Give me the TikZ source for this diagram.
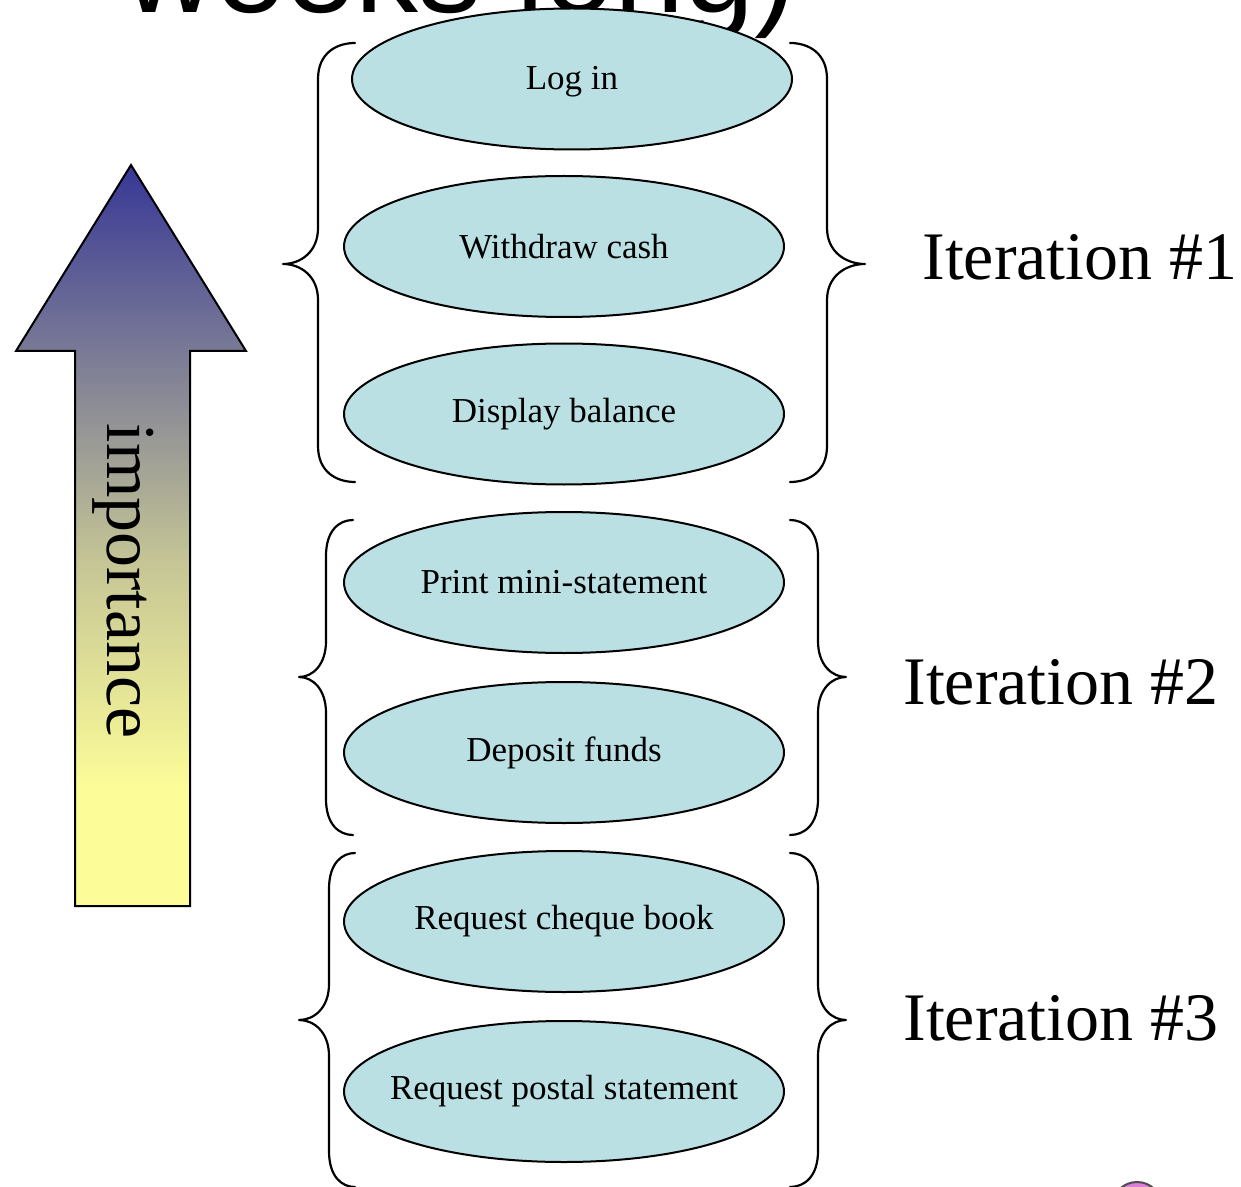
\documentclass[tikz,border=0pt]{standalone}
\usepackage{fontspec}
\setmainfont{Liberation Serif}
\newfontfamily\headfont{Liberation Sans}
\usetikzlibrary{shapes.geometric}

\definecolor{ucfill}{RGB}{186,224,228}
\definecolor{impblue}{RGB}{55,55,150}
\definecolor{impmid}{RGB}{198,198,150}
\definecolor{impyellow}{RGB}{252,252,152}
\definecolor{badgefill}{RGB}{218,128,218}

% vertical ramp for the importance arrow: yellow at the foot, blue at the tip
\pgfdeclareverticalshading{impramp}{100bp}{%
  color(0bp)=(impyellow); color(33bp)=(impyellow);
  color(48bp)=(impmid); color(75bp)=(impblue); color(100bp)=(impblue)}

% curly brace: end x, spine x, tip x, top y, tip y, bottom y
\newcommand\curlybrace[6]{%
  \draw[bracestroke] (#1,#4) .. controls ({(#1+#2)/2},#4) and (#2,{#4+10}) .. (#2,{#4+36})
    -- (#2,{#5-36}) .. controls (#2,{#5-12}) and ({(#2+#3)/2},#5) .. (#3,#5)
    .. controls ({(#2+#3)/2},#5) and (#2,{#5+12}) .. (#2,{#5+36})
    -- (#2,{#6-36}) .. controls (#2,{#6-10}) and ({(#1+#2)/2},#6) .. (#1,#6);}

\tikzset{
  usecase/.style={ellipse, draw=black, line width=1pt, fill=ucfill,
    minimum width=220pt, minimum height=70.5pt, inner sep=0pt},
  uctext/.style={font=\fontsize{17.5}{20}\selectfont, inner sep=0pt},
  bracestroke/.style={line width=1.1pt, line cap=round, line join=round},
  iterlabel/.style={anchor=base west, inner sep=0pt,
    font=\fontsize{34}{40}\selectfont},
}

\begin{document}
\begin{tikzpicture}[x=0.5pt, y=-0.5pt]
\useasboundingbox (0,0) rectangle (1241,1187);
\clip (0,0) rectangle (1241,1187);

% slide title running off the top edge
\node[anchor=base west, inner sep=0pt,
  font=\headfont\fontsize{63}{66}\selectfont] (title) at (124,13) {weeks long)};

% importance arrow
\shade[shading=impramp, draw=black, line width=1pt, line join=miter]
  (131,165) -- (246,351) -- (190,351) -- (190,906) -- (75,906)
  -- (75,351) -- (16,351) -- cycle;
\node[rotate=-90, anchor=base, inner sep=0pt,
  font=\fontsize{35}{40}\selectfont] (imp) at (107,581) {importance};

% use cases
\node[usecase, label={[uctext, yshift=-1.5pt]center:Log in}] (login) at (572,79) {};
\node[usecase, label={[uctext]center:Withdraw cash}] (withdraw) at (564,246.5) {};
\node[usecase, label={[uctext]center:Display balance}] (balance) at (564,414) {};
\node[usecase, label={[uctext]center:Print mini-statement}] (mini) at (564,582.5) {};
\node[usecase, label={[uctext]center:Deposit funds}] (deposit) at (564,752.5) {};
\node[usecase, label={[uctext]center:Request cheque book}] (cheque) at (564,921.5) {};
\node[usecase, label={[uctext]center:Request postal statement}] (postal) at (564,1091.5) {};

% iteration groupings
\curlybrace{355}{318}{283}{43}{264}{482}
\curlybrace{790}{827}{865}{43}{264}{482}
\curlybrace{353}{326}{299}{520}{677}{835}
\curlybrace{790}{818}{846}{520}{677}{835}
\curlybrace{355}{329}{299}{853}{1020}{1187}
\curlybrace{790}{818}{846}{853}{1020}{1187}

\node[iterlabel] (it1) at (922,280) {Iteration \#1};
\node[iterlabel] (it2) at (903,704) {Iteration \#2};
\node[iterlabel] (it3) at (903,1040) {Iteration \#3};

% corner badge, mostly off the page
\draw[fill=badgefill, draw=black!70, line width=1pt] (1137,1207) circle[radius=25];
\end{tikzpicture}
\end{document}
